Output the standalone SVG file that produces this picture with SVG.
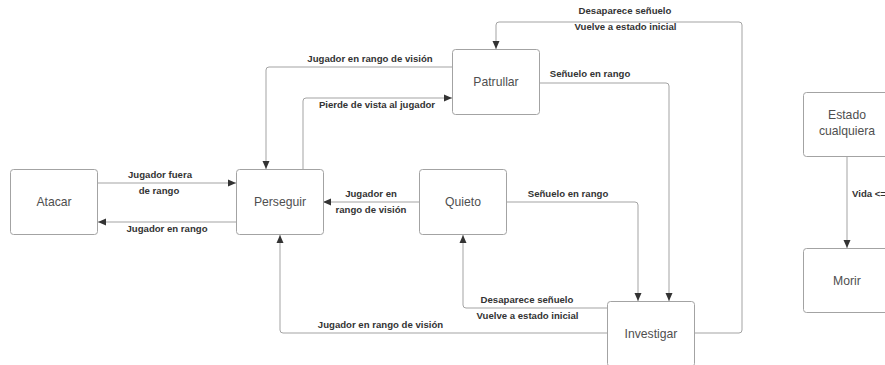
<svg xmlns="http://www.w3.org/2000/svg" width="885" height="365" viewBox="0 0 885 365">
  <style>
    .box { fill: #ffffff; stroke: #a3a3a3; stroke-width: 1; }
    .name { font-family: "Liberation Sans", Arial, sans-serif; font-size: 12.2px; fill: #4f4f4f; text-anchor: middle; }
    .wire { fill: none; stroke: #a3a3a3; stroke-width: 1; }
    .lbl { font-family: "Liberation Sans", Arial, sans-serif; font-size: 9.6px; font-weight: bold; fill: #333333; text-anchor: middle; }
  </style>
  <defs>
    <marker id="head" markerUnits="userSpaceOnUse" markerWidth="10" markerHeight="10" viewBox="0 0 10 10" refX="9" refY="5" orient="auto">
      <path d="M1,1.5 L9,5 L1,8.5 Z" fill="#333333"/>
    </marker>
  </defs>
  <rect width="885" height="365" fill="#ffffff"/>

  <!-- transitions -->
  <g id="connectors">
    <path class="wire" marker-end="url(#head)" d="M98,183 H236"/>
    <path class="wire" marker-end="url(#head)" d="M236,222 H98"/>
    <path class="wire" marker-end="url(#head)" d="M419,202 H323"/>
    <path class="wire" marker-end="url(#head)" d="M452,67 H269 Q266,67 266,70 V169"/>
    <path class="wire" marker-end="url(#head)" d="M303,169 V101 Q303,98 306,98 H452"/>
    <path class="wire" marker-end="url(#head)" d="M539,83 H666 Q669,83 669,86 V301"/>
    <path class="wire" marker-end="url(#head)" d="M694,333 H739 Q742,333 742,330 V25 Q742,22 739,22 H499 Q496,22 496,25 V49"/>
    <path class="wire" marker-end="url(#head)" d="M507,202 H635 Q638,202 638,205 V301"/>
    <path class="wire" marker-end="url(#head)" d="M607,308 H466 Q463,308 463,305 V235"/>
    <path class="wire" marker-end="url(#head)" d="M607,333 H283 Q280,333 280,330 V235"/>
    <path class="wire" marker-end="url(#head)" d="M847,157 V248"/>

    <text class="lbl" x="160" y="177.6">Jugador fuera</text>
    <text class="lbl" x="159" y="193.6">de rango</text>
    <text class="lbl" x="167" y="232.4">Jugador en rango</text>
    <text class="lbl" x="371" y="197.4">Jugador en</text>
    <text class="lbl" x="371" y="212.6">rango de visión</text>
    <text class="lbl" x="370" y="61.6">Jugador en rango de visión</text>
    <text class="lbl" x="377" y="108.4">Pierde de vista al jugador</text>
    <text class="lbl" x="590" y="76.6">Señuelo en rango</text>
    <text class="lbl" x="625" y="14.4">Desaparece señuelo</text>
    <text class="lbl" x="625.5" y="30">Vuelve a estado inicial</text>
    <text class="lbl" x="568" y="196.6">Señuelo en rango</text>
    <text class="lbl" x="527" y="303.4">Desaparece señuelo</text>
    <text class="lbl" x="527.5" y="319">Vuelve a estado inicial</text>
    <text class="lbl" x="380.5" y="327.6">Jugador en rango de visión</text>
    <text class="lbl" x="852" y="196.6" style="text-anchor:start">Vida &lt;=</text>
  </g>

  <!-- states -->
  <g id="atacar">
    <rect class="box" x="10.5" y="169.5" width="87" height="65" rx="3"/>
    <text class="name" x="54" y="206.3">Atacar</text>
  </g>
  <g id="perseguir">
    <rect class="box" x="236.5" y="169.5" width="87" height="65" rx="3"/>
    <text class="name" x="280" y="206.3">Perseguir</text>
  </g>
  <g id="quieto">
    <rect class="box" x="419.5" y="169.5" width="87" height="65" rx="3"/>
    <text class="name" x="463" y="206.3">Quieto</text>
  </g>
  <g id="patrullar">
    <rect class="box" x="452.5" y="49.5" width="87" height="65" rx="3"/>
    <text class="name" x="496" y="86.3">Patrullar</text>
  </g>
  <g id="investigar">
    <rect class="box" x="607.5" y="301.5" width="87" height="65" rx="3"/>
    <text class="name" x="651" y="338.3">Investigar</text>
  </g>
  <g id="estado-cualquiera">
    <rect class="box" x="803.5" y="92.5" width="87" height="64" rx="3"/>
    <text class="name" x="847" y="119.3">Estado</text>
    <text class="name" x="847" y="135">cualquiera</text>
  </g>
  <g id="morir">
    <rect class="box" x="803.5" y="248.5" width="87" height="64" rx="3"/>
    <text class="name" x="847" y="285">Morir</text>
  </g>
</svg>
